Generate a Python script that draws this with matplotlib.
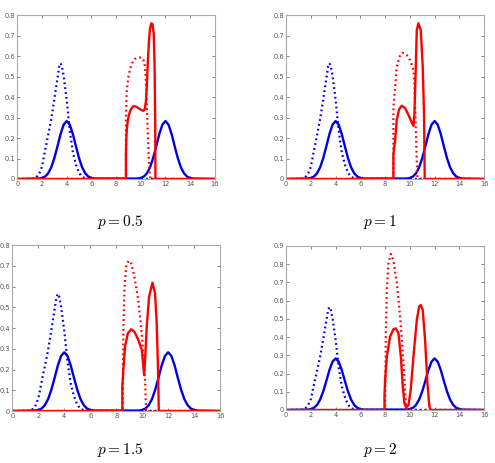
import numpy as np
import matplotlib
matplotlib.use('Agg')
import matplotlib.pyplot as plt
from matplotlib.ticker import FuncFormatter

plt.rcParams['mathtext.fontset'] = 'cm'

# blue curves are the same in all four panels
blue_x = [0, 1.75, 2.0, 2.25, 2.5, 2.75, 3.0, 3.25, 3.5, 3.75, 4.0, 4.25, 4.5, 4.75, 5.0, 5.25, 5.5, 5.75, 6.0, 6.25,
          9.75, 10.0, 10.25, 10.5, 10.75, 11.0, 11.25, 11.5, 11.75, 12.0, 12.25, 12.5, 12.75, 13.0, 13.25, 13.5, 13.75, 14.0, 14.25, 16]
blue_y = [0, 0.002, 0.005, 0.012, 0.028, 0.057, 0.102, 0.159, 0.219, 0.265, 0.283, 0.265, 0.219, 0.159, 0.102, 0.057, 0.028, 0.012, 0.005, 0.002,
          0.002, 0.005, 0.012, 0.028, 0.057, 0.102, 0.159, 0.219, 0.265, 0.283, 0.265, 0.219, 0.159, 0.102, 0.057, 0.028, 0.012, 0.005, 0.002, 0]
blue_dot_x = [0, 1.25, 1.5, 1.75, 2.0, 2.25, 2.5, 2.75, 3.0, 3.25, 3.4, 3.5, 3.6, 3.75, 4.0, 4.25, 4.5, 4.75, 5.0, 5.25, 5.5, 5.75, 16]
blue_dot_y = [0, 0.001, 0.006, 0.022, 0.06, 0.14, 0.215, 0.293, 0.39, 0.49, 0.55, 0.565, 0.553, 0.505, 0.385, 0.235, 0.13, 0.07, 0.03, 0.01, 0.004, 0.001, 0]

# red curves per panel: p = 0.5, 1, 1.5, 2
p_labels = ['$p = 0.5$', '$p = 1$', '$p = 1.5$', '$p = 2$']
y_tops = [0.8, 0.8, 0.8, 0.9]

red_x = [
    [0, 8.8, 8.8, 8.83, 8.88, 8.95, 9.05, 9.2, 9.35, 9.5, 9.7, 9.9, 10.1, 10.22, 10.32, 10.42, 10.5, 10.58, 10.66, 10.74, 10.85, 10.95, 11.05, 11.12, 11.17, 11.19, 16],
    [0, 8.67, 8.67, 8.81, 8.94, 9.13, 9.35, 9.62, 9.89, 10.16, 10.29, 10.37, 10.48, 10.56, 10.69, 10.88, 11.04, 11.15, 11.2, 16],
    [0, 8.47, 8.47, 8.55, 8.68, 8.89, 9.15, 9.4, 9.71, 9.97, 10.15, 10.25, 10.35, 10.53, 10.79, 10.99, 11.12, 11.22, 11.28, 16],
    [0, 7.95, 7.95, 8.0, 8.14, 8.4, 8.67, 8.86, 9.08, 9.27, 9.43, 9.56, 9.7, 9.89, 10.07, 10.29, 10.56, 10.75, 10.88, 11.04, 11.23, 11.42, 11.58, 11.67, 16],
]
red_y = [
    [0, 0, 0.12, 0.2, 0.25, 0.285, 0.315, 0.34, 0.353, 0.356, 0.35, 0.342, 0.335, 0.333, 0.34, 0.38, 0.47, 0.58, 0.67, 0.73, 0.76, 0.755, 0.71, 0.55, 0.28, 0, 0],
    [0, 0, 0.12, 0.19, 0.288, 0.34, 0.358, 0.345, 0.312, 0.275, 0.259, 0.32, 0.548, 0.727, 0.76, 0.727, 0.548, 0.304, 0, 0],
    [0, 0, 0.12, 0.198, 0.31, 0.374, 0.394, 0.382, 0.342, 0.294, 0.173, 0.278, 0.406, 0.551, 0.618, 0.567, 0.423, 0.198, 0, 0],
    [0, 0, 0.08, 0.165, 0.293, 0.402, 0.443, 0.448, 0.421, 0.293, 0.128, 0.037, 0.013, 0.027, 0.11, 0.293, 0.494, 0.567, 0.576, 0.549, 0.384, 0.147, 0.018, 0, 0],
]
red_dot_x = [
    [0, 8.8, 8.8, 8.84, 8.9, 9.0, 9.15, 9.3, 9.5, 9.7, 9.9, 10.1, 10.22, 10.3, 10.38, 10.45, 10.52, 10.58, 10.65, 10.72, 10.78, 16],
    [0, 8.67, 8.67, 8.81, 8.94, 9.21, 9.43, 9.75, 10.02, 10.29, 10.37, 10.45, 10.53, 10.61, 16],
    [0, 8.5, 8.55, 8.63, 8.76, 8.94, 9.15, 9.4, 9.66, 9.89, 10.09, 10.22, 10.3, 16],
    [0, 8.0, 8.06, 8.14, 8.27, 8.46, 8.67, 8.95, 9.21, 9.4, 9.54, 9.64, 9.72, 16],
]
red_dot_y = [
    [0, 0, 0.3, 0.4, 0.45, 0.5, 0.54, 0.565, 0.585, 0.592, 0.593, 0.59, 0.58, 0.565, 0.52, 0.43, 0.31, 0.2, 0.1, 0.03, 0, 0],
    [0, 0, 0.35, 0.45, 0.548, 0.605, 0.616, 0.605, 0.58, 0.532, 0.467, 0.304, 0.141, 0, 0],
    [0, 0, 0.39, 0.583, 0.695, 0.724, 0.712, 0.647, 0.551, 0.423, 0.278, 0.149, 0, 0],
    [0, 0, 0.439, 0.659, 0.805, 0.856, 0.823, 0.695, 0.512, 0.347, 0.201, 0.073, 0, 0],
]

# axes boxes in figure fractions [left, bottom, width, height]
boxes = [[0.035, 0.6134, 0.399, 0.354],
         [0.578, 0.6134, 0.400, 0.354],
         [0.025, 0.1123, 0.4196, 0.3585],
         [0.578, 0.1145, 0.400, 0.3542]]
title_pos = [(0.2424, 0.5205), (0.768, 0.5205), (0.2424, 0.028), (0.768, 0.028)]

fig = plt.figure(figsize=(4.95, 4.63), dpi=100)
dot = (0, (0.8, 1.4))
fmt = FuncFormatter(lambda v, pos: '0' if abs(v) < 1e-9 else '%g' % round(v, 2))

for i in range(4):
    ax = fig.add_axes(boxes[i])
    ax.plot(blue_x, blue_y, color='#0000e6', lw=1.7)
    ax.plot(blue_dot_x, blue_dot_y, color='#0000e6', lw=1.6, linestyle=dot)
    ax.plot(red_x[i], red_y[i], color='#ff0000', lw=1.7)
    ax.plot(red_dot_x[i], red_dot_y[i], color='#ff0000', lw=1.6, linestyle=dot)
    ax.set_xlim(0, 16)
    ax.set_ylim(0, y_tops[i])
    ax.set_xticks(np.arange(0, 17, 2))
    ax.set_yticks(np.arange(0, y_tops[i] + 0.01, 0.1))
    ax.yaxis.set_major_formatter(fmt)
    ax.tick_params(direction='in', length=2, width=0.5, labelsize=4.8, colors='#555555',
                   top=True, right=True, pad=1.5)
    for s in ax.spines.values():
        s.set_color('#aaaaaa')
        s.set_linewidth(0.8)
    fig.text(title_pos[i][0], title_pos[i][1], p_labels[i], fontsize=11, ha='center', va='center')

fig.savefig('out.png', dpi=100)
